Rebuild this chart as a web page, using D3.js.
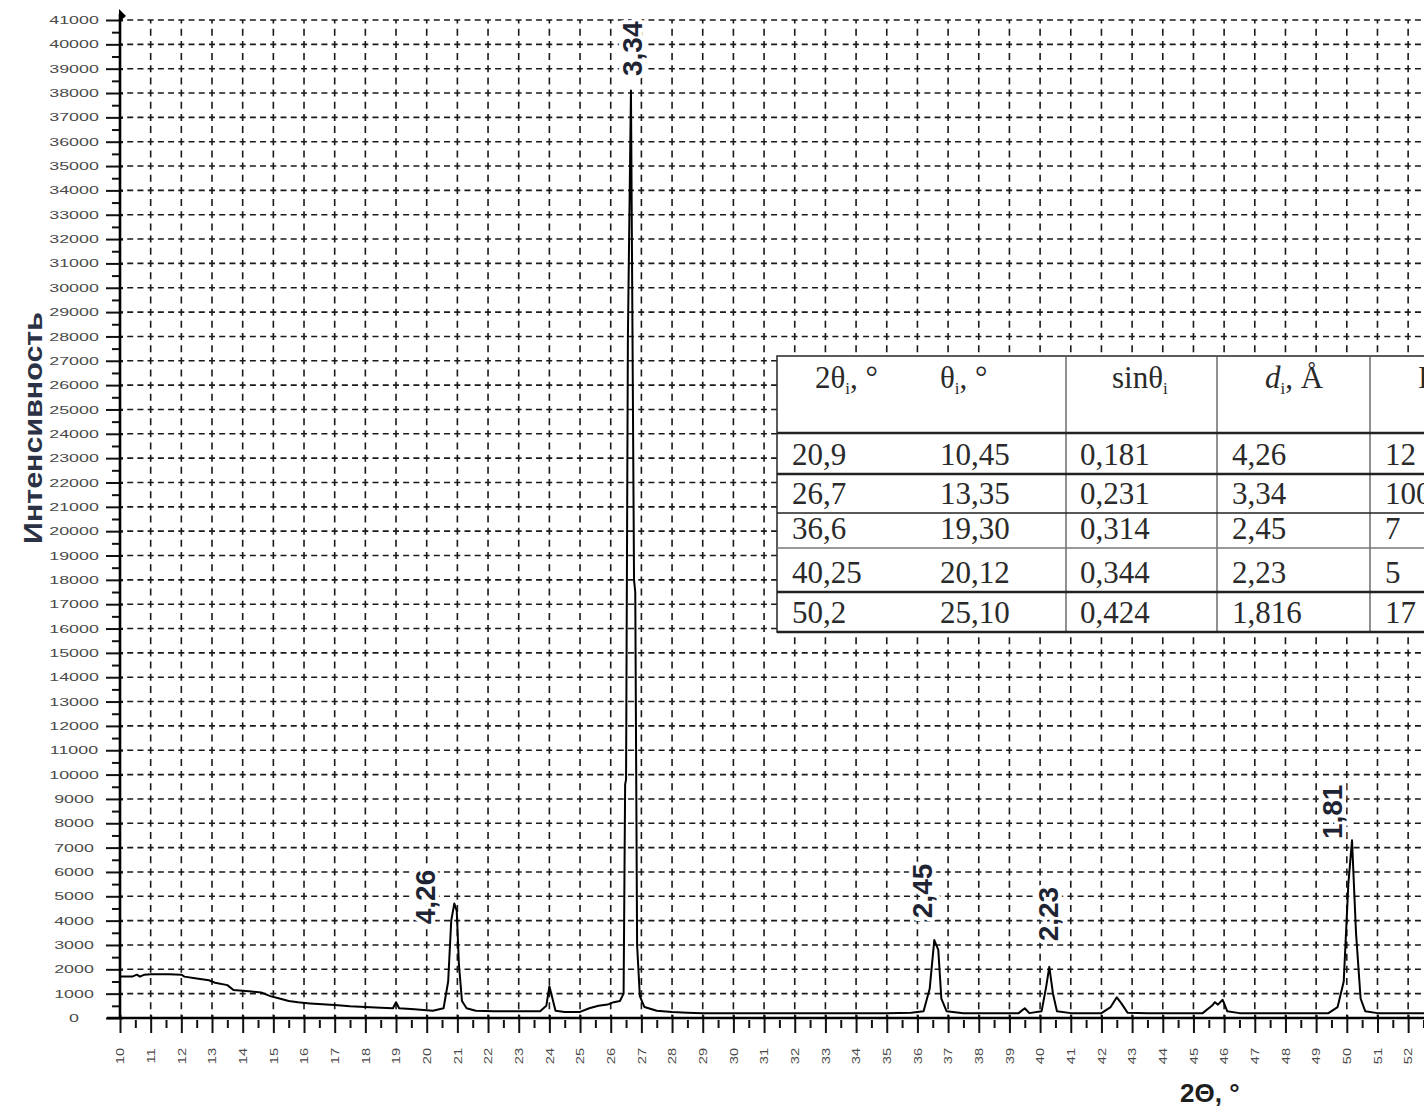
<!DOCTYPE html>
<meta charset="utf-8">
<head>
<style>
  body { margin: 0; background: #fff; overflow: hidden; }
</style>
</head>

<!-- Load d3.js -->
<script src="https://d3js.org/d3.v7.min.js"></script>

<body>
  <div id="my_dataviz"></div>
</body>

<script>

  // diffractogram: 2theta (deg) and counts
  var twoTheta = [10.0, 10.4, 10.55, 10.65, 10.8, 11.0, 11.6, 12.0, 12.1, 12.5, 12.9, 13.1, 13.5, 13.7, 14.2, 14.6,
                  14.9, 15.2, 15.5, 15.8, 16.2, 16.6, 17.0, 17.5, 18.0, 18.5, 18.9, 19.0, 19.1, 19.6, 20.2, 20.55,
                  20.7, 20.8, 20.9, 20.98, 21.05, 21.15, 21.3, 21.6, 22.2, 23.0, 23.7, 23.9, 24.0, 24.08, 24.2, 24.5,
                  25.0, 25.3, 25.6, 25.9, 26.1, 26.3, 26.42, 26.47, 26.5, 26.56, 26.66, 26.76, 26.8, 26.86, 26.95, 27.1,
                  27.5, 28.0, 28.5, 29.0, 30.0, 31.0, 32.0, 33.0, 34.0, 35.0, 35.8, 36.2, 36.4, 36.55, 36.68, 36.78,
                  36.95, 37.5, 38.5, 39.3, 39.5, 39.65, 40.05, 40.2, 40.3, 40.42, 40.55, 41.0, 42.0, 42.3, 42.5, 42.65,
                  42.85, 43.5, 44.5, 45.3, 45.6, 45.7, 45.8, 45.95, 46.1, 46.5, 48.0, 49.4, 49.7, 49.9, 50.05, 50.17,
                  50.3, 50.45, 50.6, 51.0, 52.0, 53.0, 54.0];
  var counts = [1700, 1700, 1780, 1700, 1780, 1800, 1800, 1780, 1700, 1620, 1550, 1450, 1350, 1150, 1100, 1050,
                900, 800, 700, 650, 600, 560, 530, 480, 450, 420, 400, 650, 400, 360, 300, 400,
                1500, 4000, 4700, 4400, 2200, 700, 400, 300, 280, 280, 280, 500, 1300, 900, 300, 250,
                250, 400, 500, 550, 650, 700, 1000, 9600, 9800, 28000, 38100, 18000, 17500, 3000, 900, 450,
                300, 250, 220, 200, 200, 200, 200, 200, 200, 200, 220, 280, 1200, 3200, 2800, 800,
                280, 200, 200, 200, 400, 200, 280, 1300, 2100, 1000, 280, 200, 200, 450, 850, 600,
                220, 200, 200, 200, 500, 650, 550, 750, 280, 200, 200, 200, 450, 1500, 5500, 7300,
                3500, 800, 280, 200, 200, 200, 200];

  // peak labels (d, A) and where each one sits
  var peakNames = ["4,26", "3,34", "2,45", "2,23", "1,81"];
  var peakLabelTheta = [19.97, 26.72, 36.17, 40.28, 49.55];
  var peakLabelCounts = [3850, 38700, 4100, 3150, 7350];

  // table in the upper right
  var tableHead = [["2θ", "i", ", °"], ["θ", "i", ", °"], ["sinθ", "i", ""], ["d", "i", ", Å"], ["I/I", "0", ", %"]];
  var tableRows = [
    ["20,9", "10,45", "0,181", "4,26", "12"],
    ["26,7", "13,35", "0,231", "3,34", "100"],
    ["36,6", "19,30", "0,314", "2,45", "7"],
    ["40,25", "20,12", "0,344", "2,23", "5"],
    ["50,2", "25,10", "0,424", "1,816", "17"]
  ];

  var xTicks = d3.range(10, 53, 1);
  var xMinor = d3.range(10.5, 53, 1);
  var yTicks = d3.range(0, 42000, 1000);
  var yMinor = d3.range(500, 41000, 1000);

  var width = 1424, height = 1106;

  var svg = d3.select("#my_dataviz")
    .append("svg")
      .attr("width", width)
      .attr("height", height)
      .style("display", "block");

  var x = d3.scaleLinear()
    .domain([10, 54])
    .range([120, 120 + 44 * 30.67]);

  var y = d3.scaleLinear()
    .domain([0, 41000])
    .range([1018, 20]);

  // dashed grid
  svg.append("g")
    .selectAll("line")
    .data(xTicks.slice(1))
    .enter()
    .append("line")
      .attr("x1", d => x(d)).attr("x2", d => x(d))
      .attr("y1", y(0)).attr("y2", y(41000))
      .attr("stroke", "#1a1a1a")
      .attr("stroke-width", 1.6)
      .attr("stroke-dasharray", "7,5.17")
      .attr("stroke-dashoffset", 3.5);

  svg.append("g")
    .selectAll("line")
    .data(yTicks.slice(1))
    .enter()
    .append("line")
      .attr("x1", x(10)).attr("x2", width)
      .attr("y1", d => y(d)).attr("y2", d => y(d))
      .attr("stroke", "#1a1a1a")
      .attr("stroke-width", 1.6)
      .attr("stroke-dasharray", "6,4.22")
      .attr("stroke-dashoffset", 3);

  // Y axis
  var yAxis = svg.append("g")
    .attr("transform", "translate(" + x(10) + ",0)")
    .call(d3.axisLeft(y).tickValues(yTicks).tickSize(14).tickFormat(d => d));
  yAxis.select(".domain").remove();
  yAxis.selectAll(".tick line")
    .attr("x1", 3)
    .attr("stroke", "#111")
    .attr("stroke-width", 2);
  yAxis.selectAll(".tick text")
    .attr("x", null).attr("dy", null)
    .attr("text-anchor", "middle")
    .attr("dominant-baseline", "central")
    .attr("transform", "translate(-46,0) scale(1.7,1)")
    .style("font-family", "'Liberation Sans', Arial, sans-serif")
    .style("font-size", "10.5px")
    .attr("fill", "#4a4a4a");

  var yAxisMinor = svg.append("g")
    .attr("transform", "translate(" + x(10) + ",0)")
    .call(d3.axisLeft(y).tickValues(yMinor).tickSize(8).tickFormat(""));
  yAxisMinor.select(".domain").remove();
  yAxisMinor.selectAll(".tick line").attr("stroke", "#111").attr("stroke-width", 2);

  // X axis
  var xAxis = svg.append("g")
    .attr("transform", "translate(0," + y(0) + ")")
    .call(d3.axisBottom(x).tickValues(xTicks).tickSize(15).tickFormat(d => d));
  xAxis.select(".domain").remove();
  xAxis.selectAll(".tick line")
    .attr("y1", -3)
    .attr("stroke", "#111")
    .attr("stroke-width", 2);
  xAxis.selectAll(".tick text")
    .attr("y", null).attr("dy", null)
    .attr("text-anchor", "middle")
    .attr("dominant-baseline", "central")
    .attr("transform", "translate(0,38) rotate(-90) scale(1.4,1)")
    .style("font-family", "'Liberation Sans', Arial, sans-serif")
    .style("font-size", "10.5px")
    .attr("fill", "#4a4a4a");

  var xAxisMinor = svg.append("g")
    .attr("transform", "translate(0," + y(0) + ")")
    .call(d3.axisBottom(x).tickValues(xMinor).tickSize(10).tickFormat(""));
  xAxisMinor.select(".domain").remove();
  xAxisMinor.selectAll(".tick line").attr("y1", 2).attr("stroke", "#111").attr("stroke-width", 2);

  // axis lines and the arrow on top
  svg.append("line")
    .attr("x1", 107).attr("x2", width)
    .attr("y1", y(0)).attr("y2", y(0))
    .attr("stroke", "#000").attr("stroke-width", 2.6);
  svg.append("line")
    .attr("x1", x(10)).attr("x2", x(10))
    .attr("y1", y(0)).attr("y2", 14)
    .attr("stroke", "#000").attr("stroke-width", 2.6);
  svg.append("path")
    .attr("d", "M" + (x(10) - 1) + ",9 L" + (x(10) + 6) + ",16 L" + (x(10) - 1) + ",22 Z")
    .attr("fill", "#000");

  // the pattern
  var points = twoTheta.map((t, i) => [t, counts[i]]);
  svg.append("path")
    .datum(points)
    .attr("fill", "none")
    .attr("stroke", "#000")
    .attr("stroke-width", 2)
    .attr("stroke-linejoin", "round")
    .attr("d", d3.line().x(d => x(d[0])).y(d => y(d[1])));

  // table
  var tLeft = 777, tTop = 356;
  var colLines = [1066, 1217, 1370];
  var rowLines = [433, 474, 513, 548, 592, 632];
  var headX = [815, 940, 1112, 1265, 1418];
  var cellX = [792, 940, 1080, 1232, 1385];

  var table = svg.append("g");
  table.append("rect")
    .attr("x", tLeft).attr("y", tTop)
    .attr("width", width).attr("height", rowLines[5] - tTop)
    .attr("fill", "#fff")
    .attr("stroke", "#333").attr("stroke-width", 1.6);
  table.selectAll(".col")
    .data(colLines)
    .enter()
    .append("line")
      .attr("x1", d => d).attr("x2", d => d)
      .attr("y1", tTop).attr("y2", rowLines[5])
      .attr("stroke", "#555").attr("stroke-width", 1.3);
  table.selectAll(".row")
    .data(rowLines)
    .enter()
    .append("line")
      .attr("x1", tLeft).attr("x2", width)
      .attr("y1", d => d).attr("y2", d => d)
      .attr("stroke", (d, i) => i == 3 ? "#777" : "#222")
      .attr("stroke-width", (d, i) => (i == 2 || i == 3) ? 1.4 : 2.6);

  var serif = "'Liberation Serif', 'Times New Roman', serif";
  tableHead.forEach(function(h, i) {
    var t = table.append("text")
      .attr("x", headX[i]).attr("y", 388)
      .style("font-family", serif)
      .style("font-size", "31px")
      .attr("fill", "#2a2a2a");
    t.append("tspan").text(h[0]).style("font-style", i == 3 ? "italic" : "normal");
    t.append("tspan").text(h[1]).attr("dy", 6).style("font-size", "17px");
    t.append("tspan").text(h[2]).attr("dy", -6).attr("xml:space", "preserve");
  });

  tableRows.forEach(function(row, r) {
    table.selectAll(".r" + r)
      .data(row)
      .enter()
      .append("text")
        .attr("x", (d, i) => cellX[i])
        .attr("y", rowLines[r + 1] - 9)
        .style("font-family", serif)
        .style("font-size", "31px")
        .attr("fill", "#2a2a2a")
        .text(d => d);
  });

  // peak labels
  svg.append("g")
    .selectAll("text")
    .data(peakNames)
    .enter()
    .append("text")
      .attr("transform", (d, i) => "translate(" + x(peakLabelTheta[i]) + "," + y(peakLabelCounts[i]) + ") rotate(-90)")
      .attr("text-anchor", "start")
      .attr("dominant-baseline", "central")
      .style("font-family", "'Liberation Sans', Arial, sans-serif")
      .style("font-size", "28px")
      .style("font-weight", "bold")
      .style("paint-order", "stroke")
      .attr("stroke", "#fff")
      .attr("stroke-width", 8)
      .attr("stroke-linejoin", "round")
      .attr("fill", "#1e2433")
      .text(d => d);

  // axis titles
  svg.append("text")
    .attr("transform", "translate(33,428) rotate(-90)")
    .attr("text-anchor", "middle")
    .attr("dominant-baseline", "central")
    .attr("textLength", 232)
    .attr("lengthAdjust", "spacingAndGlyphs")
    .style("font-family", "'Liberation Sans', Arial, sans-serif")
    .style("font-size", "26px")
    .style("font-weight", "bold")
    .attr("fill", "#2b3245")
    .text("Интенсивность");

  svg.append("text")
    .attr("x", 1180).attr("y", 1102)
    .style("font-family", "'Liberation Sans', Arial, sans-serif")
    .style("font-size", "26px")
    .style("font-weight", "bold")
    .attr("fill", "#1e1e1e")
    .text("2Θ, °");

</script>
